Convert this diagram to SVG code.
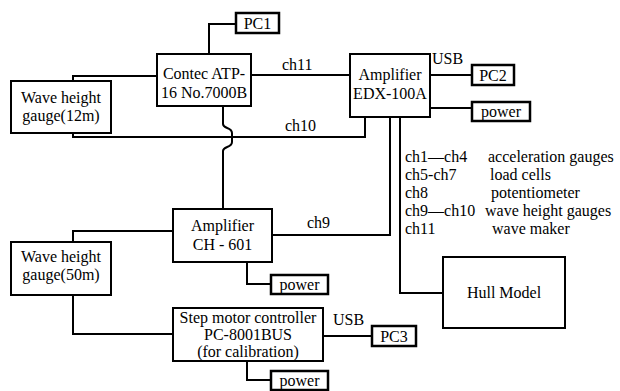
<svg xmlns="http://www.w3.org/2000/svg" width="620" height="391" viewBox="0 0 620 391" font-family="'Liberation Serif', 'DejaVu Serif', serif" font-size="16">
<style>
.box{fill:#fff;stroke:#000;stroke-width:2}
.sbox{fill:#fff;stroke:#000;stroke-width:2.5}
.ln{fill:none;stroke:#000;stroke-width:2}
text{font-family:'Liberation Serif','DejaVu Serif',serif;font-size:16px;fill:#000}
.c{text-anchor:middle}
</style>
<rect width="620" height="391" fill="#fff"/>
<g id="connectors">
<path class="ln" d="M236 24 H209 V54"/>
<path class="ln" d="M157 76 H73 V81"/>
<path class="ln" d="M251 75 H350"/>
<path class="ln" d="M73 133 V137 H365 V117"/>
<path class="ln" d="M223 106 V124 C223 129 232 127 232 133 V142 C232 148 223 146 223 151 V209"/>
<path class="ln" d="M430 75 H472"/>
<path class="ln" d="M430 108 H472"/>
<path class="ln" d="M273 235 H390 V117"/>
<path class="ln" d="M400 117 V293 H443"/>
<path class="ln" d="M173 231 H73 V242"/>
<path class="ln" d="M73 295 V334 H173"/>
<path class="ln" d="M247 262 V284 H271"/>
<path class="ln" d="M247 361 V380 H271"/>
<path class="ln" d="M323 336 H372"/>
</g>
<g id="labels">
<text x="282" y="70">ch11</text>
<text x="285" y="131">ch10</text>
<text x="432" y="64">USB</text>
<text x="307" y="228">ch9</text>
<text x="333" y="325">USB</text>
<text x="405" y="162">ch1—ch4</text>
<text x="488" y="162">acceleration gauges</text>
<text x="405" y="180">ch5-ch7</text>
<text x="490" y="180">load cells</text>
<text x="405" y="198">ch8</text>
<text x="491" y="198">potentiometer</text>
<text x="405" y="216">ch9—ch10</text>
<text x="485" y="216">wave height gauges</text>
<text x="405" y="234">ch11</text>
<text x="492" y="234">wave maker</text>
</g>
<g id="pc1"><rect class="sbox" x="236" y="13" width="43" height="20"/><text class="c" x="257.5" y="29">PC1</text></g>
<g id="contec"><rect class="box" x="157" y="54" width="94" height="52"/><text class="c" x="204" y="79">Contec ATP-</text><text class="c" x="204" y="98">16 No.7000B</text></g>
<g id="wave12"><rect class="box" x="11" y="81" width="100" height="52"/><text class="c" x="61" y="103">Wave height</text><text class="c" x="61" y="121">gauge(12m)</text></g>
<g id="edx"><rect class="box" x="350" y="54" width="80" height="63"/><text class="c" x="390" y="80">Amplifier</text><text class="c" x="390" y="99">EDX-100A</text></g>
<g id="pc2"><rect class="sbox" x="472" y="65" width="42" height="20"/><text class="c" x="493" y="81">PC2</text></g>
<g id="power1"><rect class="sbox" x="472" y="102" width="58" height="19"/><text class="c" x="501" y="117">power</text></g>
<g id="ch601"><rect class="box" x="173" y="209" width="99" height="53"/><text class="c" x="222.5" y="231">Amplifier</text><text class="c" x="222.5" y="250">CH - 601</text></g>
<g id="power2"><rect class="sbox" x="271" y="275" width="57" height="19"/><text class="c" x="299.5" y="290">power</text></g>
<g id="wave50"><rect class="box" x="11" y="242" width="100" height="53"/><text class="c" x="61" y="262">Wave height</text><text class="c" x="61" y="280">gauge(50m)</text></g>
<g id="step"><rect class="box" x="173" y="308" width="150" height="53"/><text class="c" x="248" y="323">Step motor controller</text><text class="c" x="248" y="340">PC-8001BUS</text><text class="c" x="248" y="357">(for calibration)</text></g>
<g id="pc3"><rect class="sbox" x="372" y="326" width="44" height="20"/><text class="c" x="394" y="342">PC3</text></g>
<g id="power3"><rect class="sbox" x="271" y="371" width="57" height="19"/><text class="c" x="299.5" y="386">power</text></g>
<g id="hull"><rect class="box" x="443" y="257" width="122" height="71"/><text class="c" x="504" y="298">Hull Model</text></g>
</svg>
